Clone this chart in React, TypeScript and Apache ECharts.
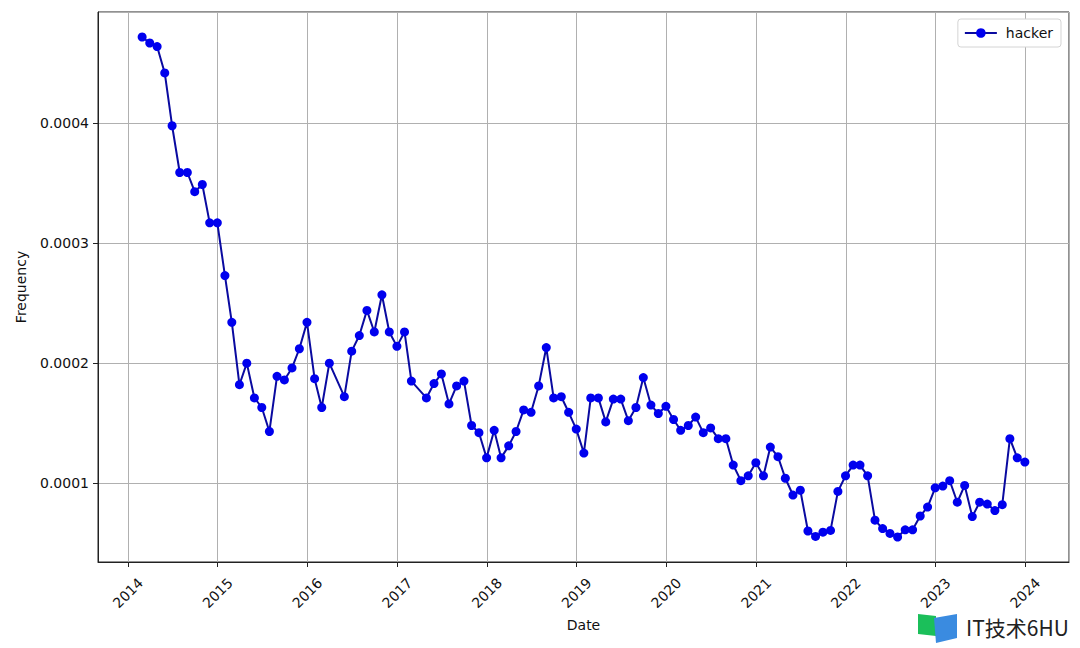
import React, { useEffect, useRef } from "react";
import * as echarts from "echarts";

const dates: string[] = [
  "2014-02-28", "2014-03-31", "2014-04-30", "2014-05-31", "2014-06-30", "2014-07-31", "2014-08-31", "2014-09-30", "2014-10-31", "2014-11-30", "2014-12-31",
  "2015-01-31", "2015-02-28", "2015-03-31", "2015-04-30", "2015-05-31", "2015-06-30", "2015-07-31", "2015-08-31", "2015-09-30", "2015-10-31", "2015-11-30", "2015-12-31",
  "2016-01-31", "2016-02-29", "2016-03-31", "2016-05-31", "2016-06-30", "2016-07-31", "2016-08-31", "2016-09-30", "2016-10-31", "2016-11-30", "2016-12-31",
  "2017-01-31", "2017-02-28", "2017-04-30", "2017-05-31", "2017-06-30", "2017-07-31", "2017-08-31", "2017-09-30", "2017-10-31", "2017-11-30", "2017-12-31",
  "2018-01-31", "2018-02-28", "2018-03-31", "2018-04-30", "2018-05-31", "2018-06-30", "2018-07-31", "2018-08-31", "2018-09-30", "2018-10-31", "2018-11-30", "2018-12-31",
  "2019-01-31", "2019-02-28", "2019-03-31", "2019-04-30", "2019-05-31", "2019-06-30", "2019-07-31", "2019-08-31", "2019-09-30", "2019-10-31", "2019-11-30", "2019-12-31",
  "2020-01-31", "2020-02-29", "2020-03-31", "2020-04-30", "2020-05-31", "2020-06-30", "2020-07-31", "2020-08-31", "2020-09-30", "2020-10-31", "2020-11-30", "2020-12-31",
  "2021-01-31", "2021-02-28", "2021-03-31", "2021-04-30", "2021-05-31", "2021-06-30", "2021-07-31", "2021-08-31", "2021-09-30", "2021-10-31", "2021-11-30", "2021-12-31",
  "2022-01-31", "2022-02-28", "2022-03-31", "2022-04-30", "2022-05-31", "2022-06-30", "2022-07-31", "2022-08-31", "2022-09-30", "2022-10-31", "2022-11-30", "2022-12-31",
  "2023-01-31", "2023-02-28", "2023-03-31", "2023-04-30", "2023-05-31", "2023-06-30", "2023-07-31", "2023-08-31", "2023-09-30", "2023-10-31", "2023-11-30", "2023-12-31",
];

const hacker: number[] = [
  0.000472, 0.000467, 0.000464, 0.000442, 0.000398, 0.000359, 0.000359, 0.000343, 0.000349, 0.000317, 0.000317,
  0.000273, 0.000234, 0.000182, 0.0002, 0.000171, 0.000163, 0.000143, 0.000189, 0.000186, 0.000196, 0.000212, 0.000234,
  0.000187, 0.000163, 0.0002, 0.000172, 0.00021, 0.000223, 0.000244, 0.000226, 0.000257, 0.000226, 0.000214,
  0.000226, 0.000185, 0.000171, 0.000183, 0.000191, 0.000166, 0.000181, 0.000185, 0.000148, 0.000142, 0.000121,
  0.000144, 0.000121, 0.000131, 0.000143, 0.000161, 0.000159, 0.000181, 0.000213, 0.000171, 0.000172, 0.000159, 0.000145,
  0.000125, 0.000171, 0.000171, 0.000151, 0.00017, 0.00017, 0.000152, 0.000163, 0.000188, 0.000165, 0.000158, 0.000164,
  0.000153, 0.000144, 0.000148, 0.000155, 0.000142, 0.000146, 0.000137, 0.000137, 0.000115, 0.000102, 0.000106, 0.000117,
  0.000106, 0.00013, 0.000122, 0.000104, 0.00009, 0.000094, 0.00006, 0.0000555, 0.000059, 0.0000605, 0.000093, 0.000106,
  0.000115, 0.000115, 0.000106, 0.000069, 0.000062, 0.000058, 0.000055, 0.000061, 0.000061, 0.0000725, 0.00008, 0.000096,
  0.0000975, 0.000102, 0.000084, 0.000098, 0.000072, 0.000084, 0.0000825, 0.000077, 0.000082, 0.000137, 0.000121, 0.0001175,
];

const seriesName = "hacker";
const xLabel = "Date";
const yLabel = "Frequency";
const watermark = "IT技术6HU";

const FONT = "DejaVu Sans";

export default function App() {
  const ref = useRef<HTMLDivElement>(null);
  useEffect(() => {
    if (!ref.current) return;
    const chart = echarts.init(ref.current, undefined, { renderer: "svg" });
    const times = dates.map((d) => +new Date(d + "T00:00:00"));
    const t0 = Math.min(...times);
    const t1 = Math.max(...times);
    const tp = (t1 - t0) * 0.05;
    const v0 = Math.min(...hacker);
    const v1 = Math.max(...hacker);
    const vp = (v1 - v0) * 0.05;
    const DAY = 86400000;

    chart.setOption({
      animation: false,
      backgroundColor: "#fff",
      textStyle: { fontFamily: FONT },
      grid: {
        left: 98,
        top: 12,
        right: 11,
        bottom: 86,
        show: true,
        borderColor: "#222",
        borderWidth: 1,
        backgroundColor: "#fff",
      },
      legend: {
        right: 19,
        top: 19,
        padding: [7, 8, 7, 6],
        borderColor: "#d4d4d4",
        borderWidth: 1,
        borderRadius: 3,
        backgroundColor: "#fff",
        itemWidth: 32,
        itemHeight: 12,
        itemGap: 10,
        textStyle: { fontFamily: FONT, fontSize: 14, color: "#111", padding: [0, 0, 0, 4] },
        data: [seriesName],
      },
      xAxis: {
        type: "time",
        min: t0 - tp,
        max: t1 + tp,
        splitNumber: 10,
        minInterval: 365 * DAY,
        maxInterval: 366 * DAY,
        name: xLabel,
        nameLocation: "middle",
        nameGap: 49,
        nameTextStyle: { fontFamily: FONT, fontSize: 14, color: "#111" },
        axisLine: { show: true, lineStyle: { color: "#222", width: 1 } },
        axisTick: { show: true, length: 5, lineStyle: { color: "#222" } },
        axisLabel: {
          formatter: "{yyyy}",
          rotate: 45,
          align: "center",
          verticalAlign: "middle",
          margin: 31,
          fontFamily: FONT,
          fontSize: 14,
          color: "#111",
          hideOverlap: false,
        },
        splitLine: { show: true, lineStyle: { color: "#b0b0b0", width: 1 } },
      },
      yAxis: {
        type: "value",
        min: v0 - vp,
        max: v1 + vp,
        minInterval: 0.0001,
        maxInterval: 0.0001,
        name: yLabel,
        nameLocation: "middle",
        nameGap: 70,
        nameTextStyle: { fontFamily: FONT, fontSize: 14, color: "#111" },
        axisLine: { show: true, lineStyle: { color: "#222", width: 1 } },
        axisTick: { show: true, length: 5, lineStyle: { color: "#222" } },
        axisLabel: {
          showMinLabel: false,
          showMaxLabel: false,
          margin: 9,
          fontFamily: FONT,
          fontSize: 14,
          color: "#111",
          formatter: (v: number) => v.toFixed(4),
        },
        splitLine: { show: true, lineStyle: { color: "#b0b0b0", width: 1 } },
      },
      series: [
        {
          name: seriesName,
          type: "line",
          data: times.map((t, i) => [t, hacker[i]]),
          symbol: "circle",
          symbolSize: 9,
          showAllSymbol: true,
          itemStyle: { color: "#0000ee" },
          lineStyle: { color: "#0a0aa0", width: 2 },
        },
      ],
      graphic: [
        {
          type: "polygon",
          shape: { points: [[918, 614], [936, 616], [936, 636], [918, 634]] },
          style: { fill: "#1bbf5a" },
        },
        {
          type: "polygon",
          shape: { points: [[934, 618], [957, 614], [957, 638], [936, 643]] },
          style: { fill: "#3a8be0" },
        },
        {
          type: "text",
          left: 966,
          top: 616,
          style: { text: watermark, font: "21px 'Noto Sans CJK SC'", fill: "#222" },
        },
      ],
    });
    return () => chart.dispose();
  }, []);
  return (
    <div
      ref={ref}
      style={{ position: "absolute", left: 0, top: 0, width: 1080, height: 648 }}
    />
  );
}
